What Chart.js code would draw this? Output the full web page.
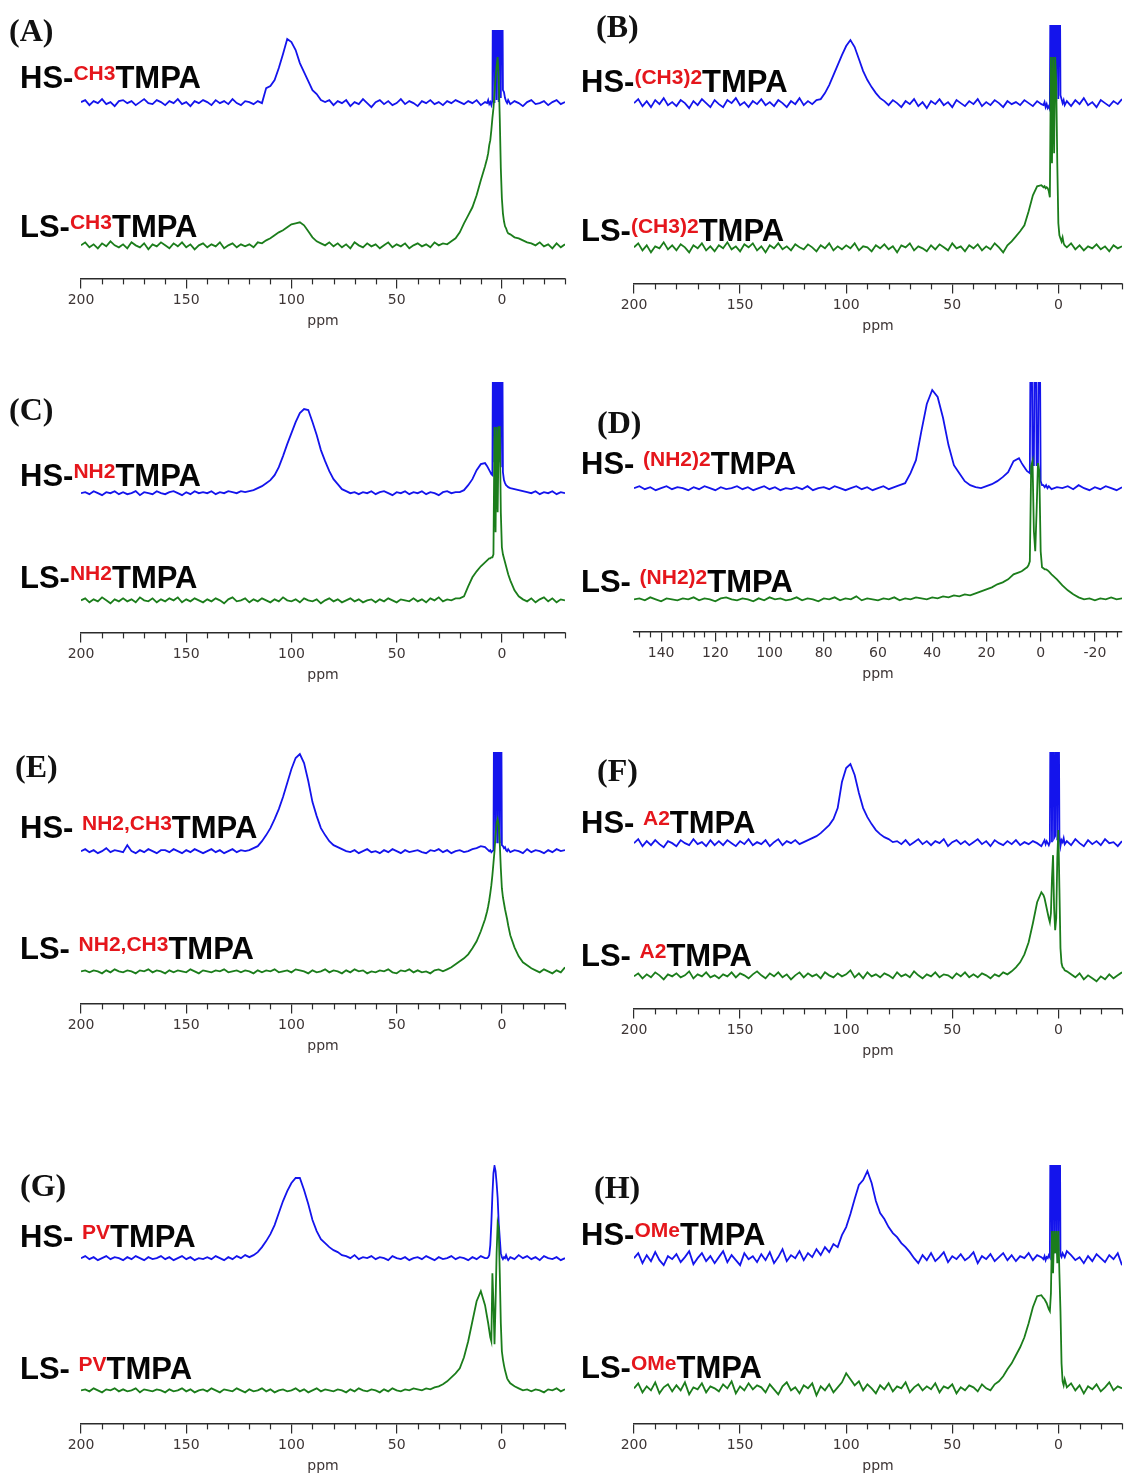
<!DOCTYPE html>
<html>
<head>
<meta charset="utf-8">
<script src="https://cdn.jsdelivr.net/npm/chart.js@4.4.1/dist/chart.umd.min.js"></script>
<style>
  body { margin: 0; background: #fff; width: 1125px; height: 1473px; position: relative; overflow: hidden; }
  .panel { position: absolute; }
  .tag { position: absolute; font: bold 32px "Liberation Serif", serif; line-height: 1; color: #111; white-space: nowrap; }
  .lab { position: absolute; font: bold 31px "Liberation Sans", Arial, sans-serif; line-height: 1; color: #050505; white-space: nowrap; }
  .lab span { font-size: 21px; color: #e5161c; vertical-align: 8px; }
</style>
</head>
<body>
<script>
// sampling grids (ppm), dense around the sharp signals near 0 ppm
const ppmWide = [200,198,196,194,192,190,188,186,184,182,
  180,178,176,174,172,170,168,166,164,162,
  160,158,156,154,152,150,148,146,144,142,
  140,138,136,134,132,130,128,126,124,122,
  120,118,116,114,112,110,108,106,104,102,
  100,98,96,94,92,90,88,86,84,82,
  80,78,76,74,72,70,68,66,64,62,
  60,58,56,54,52,50,48,46,44,42,
  40,38,36,34,32,30,28,26,24,22,
  20,18,16,14,12,10,8,
  7,6.5,6,5.5,5,4.5,4,3.5,3,2.5,
  2,1.5,1,0.5,0,-0.5,-1,-1.5,-2,-2.5,-3,
  -4,-6,-8,-10,-12,-14,-16,-18,-20,-22,-24,-26,-28,-30];

const ppmNarrow = [150,148,146,144,142,140,138,136,134,132,
  130,128,126,124,122,120,118,116,114,112,
  110,108,106,104,102,100,98,96,94,92,
  90,88,86,84,82,80,78,76,74,72,
  70,68,66,64,62,60,58,56,54,52,
  50,48,46,44,42,40,38,36,34,32,
  30,28,26,24,22,20,18,16,14,12,
  10,8,
  7,6.5,6,5.5,5,4.5,4,3.5,3,2.5,
  2,1.5,1,0.5,0,-0.5,-1,-1.5,-2,-2.5,-3,
  -4,-6,-8,-10,-12,-14,-16,-18,-20,-22,-24,-26,-28,-30];

// intensities (arbitrary units)
const hsA = [176,178,173,177,175,179,174,176,172,177,
  178,175,177,173,176,179,175,174,178,176,
  173,177,175,179,174,176,172,177,175,178,
  176,173,178,175,177,174,179,175,173,177,
  176,174,177,175,190,192,198,210,224,239,
  236,228,215,206,197,188,184,178,176,178,
  173,177,175,178,172,176,174,179,175,171,
  176,178,174,177,173,175,179,174,177,175,
  172,177,175,178,174,176,173,177,175,178,
  176,174,177,175,178,173,176,
  175,178,174,176,173,178,400,175,400,178,
  400,176,400,180,400,188,186,180,177,175,178,
  174,177,175,172,176,178,174,175,177,173,176,178,174,176];
const lsA = [33,36,31,34,30,35,32,37,33,31,
  34,30,36,33,31,35,29,34,32,36,
  33,30,35,32,36,31,34,29,33,35,
  31,34,32,36,30,33,35,31,34,32,
  34,31,36,35,38,40,43,46,48,51,
  54,55,56,53,47,41,37,35,33,36,
  32,35,31,34,30,36,33,31,35,32,
  34,30,33,36,31,34,32,35,30,33,
  35,32,34,31,36,33,35,34,37,40,
  46,55,63,71,83,98,112,
  120,125,133,138,148,160,170,185,200,212,
  221,200,160,110,80,65,57,52,50,47,45,
  44,41,40,38,36,35,33,36,32,34,30,35,31,34];

const hsB = [180,184,177,182,176,183,179,185,178,181,
  177,183,180,175,182,178,184,180,176,183,
  179,176,183,180,185,178,181,176,182,179,
  184,178,181,177,183,180,176,182,179,185,
  178,182,179,183,184,190,198,208,218,228,
  237,243,236,224,212,203,196,190,185,182,
  178,183,180,176,182,179,184,177,181,175,
  182,179,184,178,181,176,183,180,177,182,
  179,184,177,181,178,183,180,176,182,179,
  181,178,183,180,177,182,179,
  178,181,176,179,175,177,174,400,182,400,
  182,400,182,400,184,400,188,184,180,183,178,
  182,177,183,179,185,178,181,176,183,180,177,182,179,184];
const lsB = [36,40,33,38,31,37,35,41,34,38,
  33,39,36,31,38,35,40,33,37,32,
  38,35,41,34,37,32,39,36,40,33,
  37,31,38,35,40,34,37,33,39,36,
  34,39,36,32,38,35,40,33,37,34,
  38,35,40,33,37,36,32,38,35,39,
  34,37,31,38,36,40,33,37,35,32,
  38,34,39,36,33,40,35,37,32,38,
  35,39,33,37,34,40,36,31,38,42,
  47,52,58,72,88,97,98,
  96,97,95,96,95,92,86,226,120,226,
  130,226,200,120,60,48,45,42,46,40,38,
  36,40,34,38,33,37,35,39,34,37,32,38,35,37];

const hsC = [139,140,138,141,139,137,140,139,141,138,
  140,138,139,141,137,140,139,138,141,139,
  138,140,141,139,137,140,138,141,139,140,
  139,141,138,140,139,141,140,139,141,140,
  141,142,144,146,149,152,157,165,176,188,
  199,210,219,223,222,210,197,182,171,161,
  153,148,143,141,139,140,138,140,139,141,
  138,140,141,139,137,140,139,141,138,140,
  139,141,138,140,139,137,140,141,139,140,
  140,142,147,153,162,168,169,
  166,164,162,160,158,157,400,170,400,170,
  400,170,400,165,400,160,152,149,147,146,145,
  144,143,142,141,140,139,141,138,140,139,141,138,140,139];
const lsC = [32,34,30,33,31,35,32,29,33,31,
  34,31,33,30,35,32,31,34,30,33,
  31,34,32,35,30,33,31,34,32,30,
  33,31,34,32,29,33,35,31,32,34,
  30,33,31,34,32,30,33,31,35,32,
  31,33,30,34,32,31,33,29,32,34,
  31,33,30,32,34,31,33,30,32,33,
  30,33,31,34,32,30,33,32,31,34,
  31,33,30,34,32,35,31,33,32,34,
  34,36,46,55,61,66,70,
  72,73,74,74,75,75,78,205,100,205,
  120,205,205,120,85,78,74,70,66,62,58,
  52,42,36,33,31,34,30,33,35,31,34,30,33,32];

const hsD = [143,145,142,144,141,143,145,142,144,143,
  141,144,142,145,143,141,144,142,143,145,
  142,144,141,143,145,142,144,141,143,142,
  144,142,145,141,143,144,142,145,143,141,
  143,145,142,144,141,143,145,142,144,146,
  148,158,171,200,227,241,234,213,186,166,
  158,150,146,144,143,145,147,150,154,159,
  170,173,
  168,166,164,162,160,159,158,400,166,166,
  400,166,166,400,150,146,146,144,146,143,145,
  142,144,143,145,142,146,143,141,144,142,145,143,141,144];
const lsD = [32,33,31,34,32,30,33,32,31,33,
  32,34,31,33,32,30,33,34,32,31,
  33,32,30,33,31,34,32,33,31,32,
  34,31,33,32,30,33,32,34,31,33,
  32,35,31,33,32,31,33,32,34,31,
  33,32,34,33,32,34,33,35,34,36,
  35,37,36,38,40,42,44,47,49,52,
  57,59,
  60,61,62,63,64,66,70,165,170,100,
  80,120,168,160,80,64,63,62,62,61,60,
  57,52,46,41,37,34,32,33,31,33,32,34,32,33];

const hsE = [152,154,151,153,150,152,155,151,153,152,
  151,158,152,150,153,151,154,152,150,153,
  153,151,154,152,150,153,151,154,152,150,
  152,154,151,153,150,152,154,151,153,152,
  153,155,157,162,168,175,184,194,206,220,
  234,245,249,240,222,201,187,175,168,162,
  158,156,154,152,151,153,150,152,154,151,
  152,150,153,151,154,152,150,153,151,152,
  153,151,150,153,152,154,151,153,150,152,
  153,151,152,154,155,157,156,
  154,153,152,153,151,152,153,400,160,400,
  160,400,160,400,158,157,155,156,153,152,154,
  151,153,152,150,154,151,153,152,150,153,151,154,152,153];
const lsE = [32,33,31,33,32,30,33,31,34,32,
  31,33,32,30,33,32,34,31,33,32,
  30,33,31,33,32,31,34,32,30,33,
  32,31,33,32,34,31,32,33,31,33,
  32,30,33,31,33,32,34,31,32,33,
  31,34,33,32,30,33,31,32,34,31,
  33,32,30,33,31,34,32,33,30,32,
  31,33,32,34,31,30,33,32,34,31,
  33,31,32,30,33,34,32,34,36,39,
  42,45,49,55,62,72,84,
  92,97,103,110,118,128,140,152,168,180,
  184,178,160,135,115,106,100,94,89,84,78,
  68,56,47,41,38,35,33,31,34,32,30,33,31,36];

const hsF = [165,169,162,167,163,168,164,161,167,165,
  162,168,165,163,169,164,166,162,168,163,
  167,163,168,165,162,167,164,169,163,166,
  164,168,162,166,169,163,167,165,168,164,
  166,168,170,172,175,179,183,189,200,226,
  240,244,233,215,200,191,184,178,174,171,
  169,166,167,164,168,163,166,169,164,167,
  163,167,165,169,162,166,168,164,167,163,
  166,169,164,167,162,168,165,163,167,164,
  168,163,166,164,167,165,162,
  166,168,164,167,165,163,166,400,166,400,
  170,172,400,168,400,172,162,168,166,170,164,
  167,163,169,165,162,168,164,167,163,169,165,166,162,167];
const lsF = [32,35,30,34,31,36,33,29,34,32,
  35,31,33,37,30,34,32,36,31,33,
  30,34,32,36,31,35,33,30,34,37,
  33,30,35,32,36,31,34,29,33,36,
  31,35,32,34,30,36,33,31,35,32,
  34,38,31,35,30,36,32,34,31,35,
  33,30,36,32,34,31,37,33,30,34,
  32,36,31,34,33,30,35,32,36,31,
  34,31,35,33,30,34,32,36,34,37,
  41,46,54,66,85,106,116,
  113,110,105,100,95,90,86,95,130,153,
  100,78,90,150,178,120,60,45,41,40,38,
  37,34,31,35,29,33,30,27,32,29,34,30,33,36];

const hsG = [165,167,164,166,163,165,167,164,166,165,
  163,166,164,167,165,163,166,164,165,167,
  164,166,163,165,167,164,166,163,165,164,
  166,164,167,165,163,166,164,167,165,168,
  166,168,171,176,182,189,198,210,222,232,
  240,245,245,233,219,203,192,184,180,176,
  173,171,168,167,165,168,164,166,165,167,
  164,166,165,163,167,165,164,166,163,165,
  166,164,167,165,163,166,164,165,167,164,
  166,165,163,166,164,167,165,
  165,166,168,178,200,228,250,257,252,240,
  225,200,185,170,166,164,166,165,168,165,163,
  166,164,168,165,167,164,166,163,167,165,164,166,163,165];
const lsG = [33,34,32,35,33,31,34,33,35,32,
  34,32,33,35,31,34,33,32,34,33,
  31,34,32,33,35,32,34,31,33,34,
  32,35,33,31,34,33,32,35,33,31,
  34,32,33,35,32,34,31,33,34,32,
  33,35,32,34,31,33,35,32,34,33,
  32,34,33,31,34,32,35,33,32,34,
  33,31,34,32,35,33,32,34,33,35,
  34,33,35,34,36,37,39,42,46,50,
  55,66,82,102,122,132,118,
  106,100,93,86,82,150,120,79,120,170,
  200,195,150,100,72,64,58,53,49,45,43,
  40,37,35,33,34,32,34,33,31,34,33,35,32,34];

const hsH = [165,170,160,168,162,171,163,158,167,164,
  169,161,166,172,159,165,170,162,167,160,
  166,172,161,168,163,158,170,164,167,161,
  169,163,171,160,166,174,162,168,165,172,
  163,170,166,174,168,176,171,179,176,188,
  196,209,224,238,243,252,240,222,210,204,
  196,190,186,180,176,171,165,160,168,163,
  170,162,166,171,161,167,164,169,163,166,
  171,160,167,164,169,162,166,170,163,168,
  162,167,165,170,163,168,166,
  164,167,163,166,165,168,166,400,170,400,
  170,400,170,400,172,400,168,166,170,168,166,
  172,168,163,166,160,167,162,169,165,161,168,164,170,158];
const lsH = [35,40,31,37,33,41,30,36,39,32,
  38,33,41,29,36,34,40,31,37,35,
  32,39,35,42,30,37,33,40,34,38,
  36,31,39,34,29,37,41,33,36,30,
  38,35,40,28,37,33,39,31,36,41,
  50,44,38,42,33,39,35,30,38,34,
  40,32,37,35,41,31,36,39,33,37,
  34,40,31,37,35,39,30,36,33,38,
  36,32,39,35,33,39,42,47,54,60,
  68,76,86,100,116,127,128,
  125,124,122,120,117,114,112,130,192,150,
  192,170,192,160,192,150,112,60,42,38,44,
  36,40,33,38,30,37,34,39,32,36,41,33,37,35];

// axis ticks
const majorWide = [200, 150, 100, 50, 0];
const majorNarrow = [140, 120, 100, 80, 60, 40, 20, 0, -20];

// labels
const panelTags = ['(A)', '(B)', '(C)', '(D)', '(E)', '(F)', '(G)', '(H)'];
const ligands = ['CH3', '(CH3)2', 'NH2', '(NH2)2', 'NH2,CH3', 'A2', 'PV', 'OMe'];
const spaced = [false, false, false, true, true, true, true, false];

const spectra = [
  { grid: ppmWide, hs: hsA, ls: lsA, max: 200, major: majorWide, minor: 10 },
  { grid: ppmWide, hs: hsB, ls: lsB, max: 200, major: majorWide, minor: 10 },
  { grid: ppmWide, hs: hsC, ls: lsC, max: 200, major: majorWide, minor: 10 },
  { grid: ppmNarrow, hs: hsD, ls: lsD, max: 150, major: majorNarrow, minor: 4 },
  { grid: ppmWide, hs: hsE, ls: lsE, max: 200, major: majorWide, minor: 10 },
  { grid: ppmWide, hs: hsF, ls: lsF, max: 200, major: majorWide, minor: 10 },
  { grid: ppmWide, hs: hsG, ls: lsG, max: 200, major: majorWide, minor: 10 },
  { grid: ppmWide, hs: hsH, ls: lsH, max: 200, major: majorWide, minor: 10 },
];

// page placement of each panel
const layout = [
  { x: 41, w: 534, top: 30, axis: 278, tagX: 9, tagBase: 41, labX: 20, hsBase: 88, lsBase: 237 },
  { x: 594, w: 531, top: 25, axis: 283, tagX: 596, tagBase: 37, labX: 581, hsBase: 92, lsBase: 241 },
  { x: 41, w: 534, top: 382, axis: 632, tagX: 9, tagBase: 420, labX: 20, hsBase: 486, lsBase: 588 },
  { x: 594, w: 531, top: 382, axis: 631, tagX: 597, tagBase: 433, labX: 581, hsBase: 474, lsBase: 592 },
  { x: 41, w: 534, top: 752, axis: 1003, tagX: 15, tagBase: 777, labX: 20, hsBase: 838, lsBase: 959 },
  { x: 594, w: 531, top: 752, axis: 1008, tagX: 597, tagBase: 781, labX: 581, hsBase: 833, lsBase: 966 },
  { x: 41, w: 534, top: 1165, axis: 1423, tagX: 20, tagBase: 1196, labX: 20, hsBase: 1247, lsBase: 1379 },
  { x: 594, w: 531, top: 1165, axis: 1423, tagX: 594, tagBase: 1198, labX: 581, hsBase: 1245, lsBase: 1378 },
];

const AXIS_COLOR = '#2b2b2b';
const TICK_TEXT = '#3d3535';
const BELOW_AXIS = 55;

const minorTicks = {
  id: 'minorTicks',
  afterDraw(chart, args, opts) {
    const scale = chart.scales.x;
    const ctx = chart.ctx;
    const y0 = chart.chartArea.bottom;
    ctx.save();
    ctx.strokeStyle = AXIS_COLOR;
    ctx.lineWidth = 1.2;
    for (let v = Math.ceil(scale.min / opts.step) * opts.step; v <= scale.max; v += opts.step) {
      if (opts.major.includes(v)) continue;
      const px = Math.round(scale.getPixelForValue(v)) + 0.5;
      ctx.beginPath();
      ctx.moveTo(px, y0);
      ctx.lineTo(px, y0 + 6);
      ctx.stroke();
    }
    ctx.restore();
  }
};

function toPoints(grid, values) {
  return grid.map((p, i) => ({ x: p, y: values[i] }));
}

function addText(cls, html, left, top) {
  const div = document.createElement('div');
  div.className = cls;
  div.innerHTML = html;
  div.style.left = left + 'px';
  div.style.top = top + 'px';
  document.body.appendChild(div);
}

spectra.forEach((s, i) => {
  const L = layout[i];
  const rightCol = L.x > 500;
  const height = L.axis - L.top + BELOW_AXIS;

  const box = document.createElement('div');
  box.className = 'panel';
  box.style.left = L.x + 'px';
  box.style.top = L.top + 'px';
  const canvas = document.createElement('canvas');
  canvas.width = L.w;
  canvas.height = height;
  box.appendChild(canvas);
  document.body.appendChild(box);

  new Chart(canvas, {
    type: 'line',
    data: {
      datasets: [
        { label: 'LS', data: toPoints(s.grid, s.ls), borderColor: '#1b7d1b', borderWidth: 1.8, pointRadius: 0, tension: 0 },
        { label: 'HS', data: toPoints(s.grid, s.hs), borderColor: '#1414ec', borderWidth: 1.8, pointRadius: 0, tension: 0 }
      ]
    },
    options: {
      responsive: false,
      animation: false,
      events: [],
      layout: { padding: { left: 40, right: rightCol ? 3 : 10, top: 0, bottom: 3 } },
      plugins: {
        legend: { display: false },
        tooltip: { enabled: false },
        minorTicks: { step: s.minor, major: s.major }
      },
      scales: {
        x: {
          type: 'linear',
          reverse: true,
          min: -30,
          max: s.max,
          border: { display: true, color: AXIS_COLOR, width: 1.5 },
          grid: { display: true, drawOnChartArea: false, drawTicks: true, tickLength: 10, color: AXIS_COLOR, lineWidth: 1.2 },
          afterBuildTicks: scale => { scale.ticks = s.major.map(v => ({ value: v })); },
          ticks: { color: TICK_TEXT, font: { family: 'DejaVu Sans', size: 14 }, padding: 4, maxRotation: 0, autoSkip: false },
          title: { display: true, text: 'ppm', color: TICK_TEXT, font: { family: 'DejaVu Sans', size: 14 }, padding: { top: 0, bottom: 0 } }
        },
        y: { display: false, min: 0, max: L.axis - L.top }
      }
    },
    plugins: [minorTicks]
  });

  const gap = spaced[i] ? ' ' : '';
  addText('tag', panelTags[i], L.tagX, L.tagBase - 26.8);
  addText('lab', 'HS-' + gap + '<span>' + ligands[i] + '</span>TMPA', L.labX, L.hsBase - 26.2);
  addText('lab', 'LS-' + gap + '<span>' + ligands[i] + '</span>TMPA', L.labX, L.lsBase - 26.2);
});
</script>
</body>
</html>
